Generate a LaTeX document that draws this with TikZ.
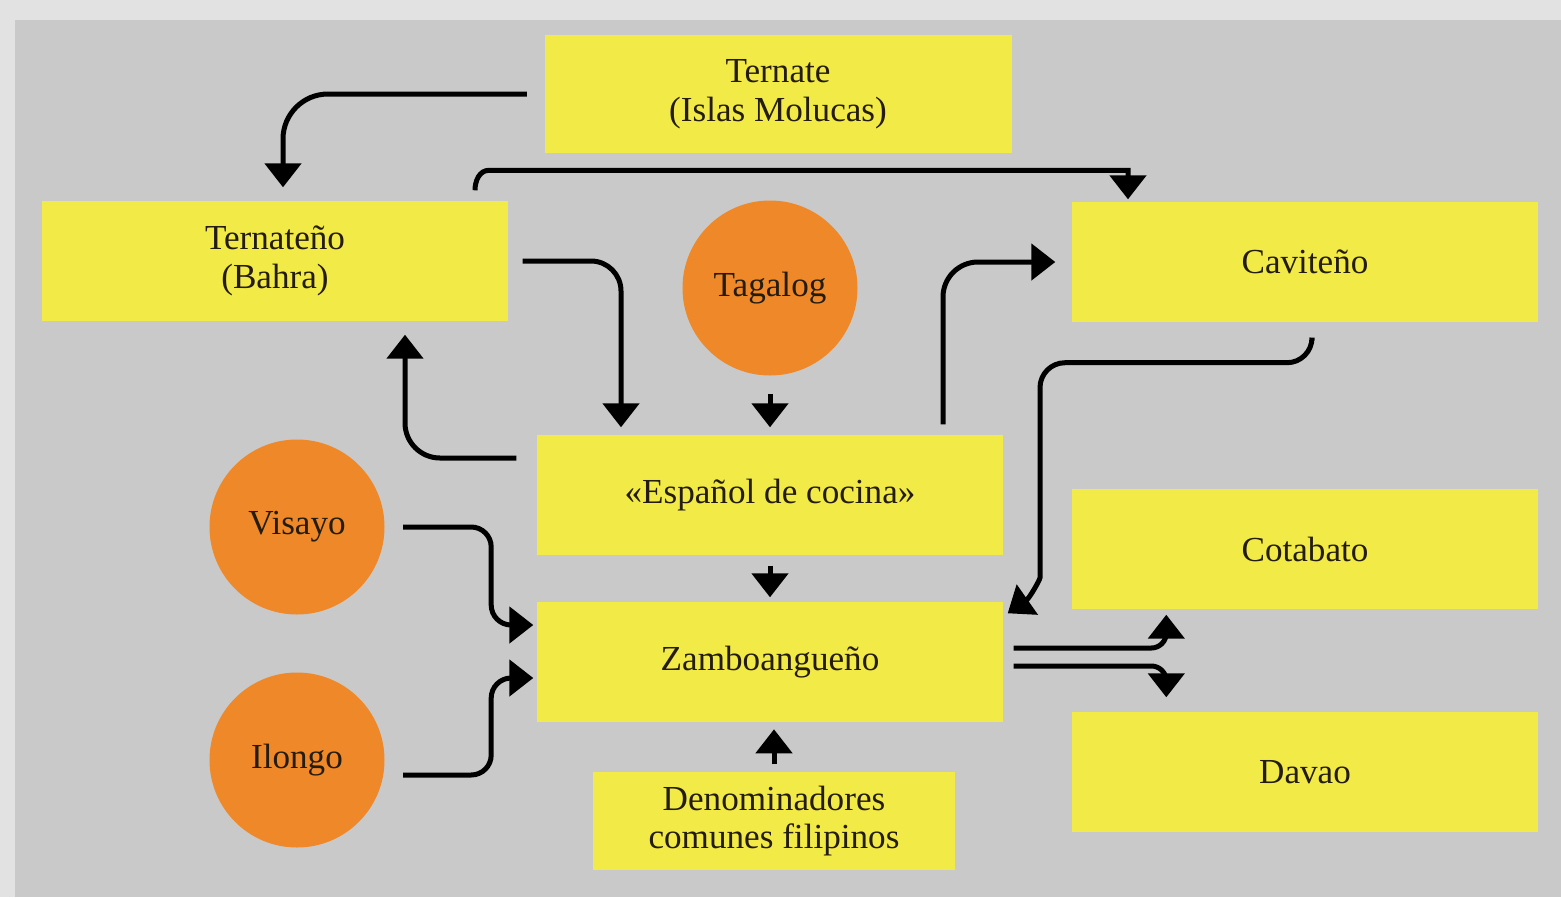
\documentclass[tikz,border=0pt]{standalone}
\usepackage{fontspec}
\setmainfont{Liberation Serif}
\usetikzlibrary{arrows.meta,positioning}
\definecolor{frame}{RGB}{226,226,226}
\definecolor{panel}{RGB}{201,201,201}
\definecolor{lemon}{RGB}{242,234,70}
\definecolor{tangerine}{RGB}{238,136,40}
\definecolor{ink}{RGB}{35,28,15}
\begin{document}
\begin{tikzpicture}[on grid,
   box/.style={fill=lemon,text=ink,minimum width=4.66cm,minimum height=1.2cm,align=center,
     font=\fontsize{10}{11}\selectfont},
   hub/.style={circle,fill=tangerine,text=ink,minimum size=1.75cm,inner sep=0pt,
     font=\fontsize{10}{11}\selectfont},
   link/.style={line width=0.05cm,-{Triangle[width=0.36cm,length=0.24cm]}}]
   \useasboundingbox (0,0) rectangle (15.61,-8.97);
   \fill[frame] (0,0) rectangle (15.61,-8.97);
   \fill[panel] (0.15,-0.2) rectangle (15.61,-8.97);
   \node[box] (esp) at (7.7,-4.95) {«Español de cocina»};
   \node[box,minimum width=4.67cm,minimum height=1.18cm] (ternate) [above=4.01 of esp,xshift=0.08cm] {Ternate\\(Islas Molucas)};
   \node[hub] (tag) [above=2.07 of esp] {Tagalog};
   \node[box] (bahra) [above left=2.34 and 4.95 of esp] {Ternateño\\(Bahra)};
   \node[box] (cavite) [above right=2.33 and 5.35 of esp] {Caviteño};
   \node[box] (zam) [below=1.67 of esp] {Zamboangueño};
   \node[box,minimum width=3.62cm,minimum height=0.98cm] (den) [below=1.59 of zam,xshift=0.04cm] {Denominadores\\comunes filipinos};
   \node[hub] (vis) [below left=0.32 and 4.73 of esp] {Visayo};
   \node[hub] (ilo) [below=2.33 of vis] {Ilongo};
   \node[box] (cot) [below right=0.54 and 5.35 of esp] {Cotabato};
   \node[box] (dav) [below=2.23 of cot] {Davao};
   \draw[link,rounded corners=0.45cm] ([xshift=-0.17cm]ternate.west) -| ([xshift=0.08cm,yshift=0.13cm]bahra.north);
   \draw[link] ([xshift=2cm,yshift=0.1cm]bahra.north) to[out=90,in=180] ++(0.14,0.2) -| ([xshift=-1.77cm,yshift=0.02cm]cavite.north);
   \draw[link,rounded corners=0.3cm] ([xshift=0.14cm]bahra.east) -| ([xshift=-1.49cm,yshift=0.07cm]esp.north);
   \draw[link] ([yshift=-0.18cm]tag.south) -- ([yshift=0.07cm]esp.north);
   \draw[link,rounded corners=0.35cm] ([xshift=-0.2cm,yshift=0.37cm]esp.west) -| ([xshift=1.3cm,yshift=-0.13cm]bahra.south);
   \draw[link,rounded corners=0.35cm] ([xshift=1.73cm,yshift=0.1cm]esp.north) |- ([xshift=-0.16cm]cavite.west);
   \draw[link,rounded corners=0.25cm] ([xshift=0.07cm,yshift=-0.18cm]cavite.south) |- ++(-2.72,-0.22) -- ++(0,-1.9)
      to[out=-90,in=35] ([xshift=0.04cm,yshift=-0.12cm]zam.north east);
   \draw[link] ([yshift=-0.1cm]esp.south) -- ([yshift=0.04cm]zam.north);
   \draw[link,rounded corners=0.2cm] ([xshift=0.18cm]vis.east) -- ++(0.88,0) |- ([xshift=-0.03cm,yshift=0.37cm]zam.west);
   \draw[link,rounded corners=0.2cm] ([xshift=0.18cm,yshift=-0.15cm]ilo.east) -- ++(0.88,0) |- ([xshift=-0.03cm,yshift=-0.16cm]zam.west);
   \draw[link] ([yshift=0.07cm]den.north) -- ++(0,0.35);
   \draw[link,rounded corners=0.15cm] ([xshift=0.1cm,yshift=0.14cm]zam.east) -| ([xshift=0.95cm,yshift=-0.05cm]cot.south west);
   \draw[link,rounded corners=0.15cm] ([xshift=0.1cm,yshift=-0.04cm]zam.east) -| ([xshift=0.95cm,yshift=0.14cm]dav.north west);
\end{tikzpicture}
\end{document}
